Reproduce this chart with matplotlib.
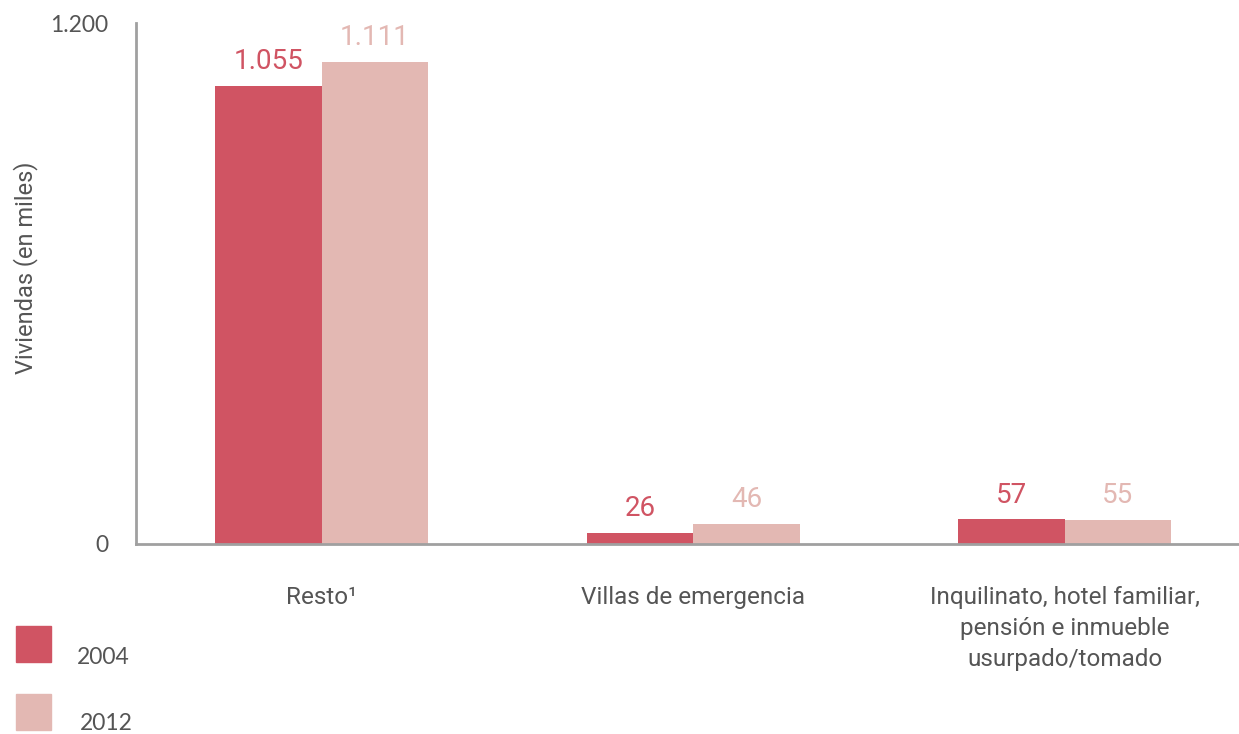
import matplotlib
matplotlib.use("Agg")
import matplotlib.pyplot as plt
from matplotlib.patches import Rectangle
import numpy as np

categories = ["Resto\u00b9", "Villas de emergencia",
              "Inquilinato, hotel familiar,\npensión e inmueble\nusurpado/tomado"]
series = ["2004", "2012"]
values_2004 = [1055, 26, 57]
values_2012 = [1111, 46, 55]
colors = ["#D05463", "#E3B8B3"]
ytick_vals = [0, 1200]
ytick_labels = ["0", "1.200"]

narrow = ["Roboto", "DejaVu Sans"]
plain = ["Lato", "DejaVu Sans"]
grey = "#555555"

fig = plt.figure(figsize=(12.39, 7.34), dpi=100)
ax = fig.add_axes([136 / 1239, 190 / 734, 1114.5 / 1239, 521 / 734])

x = np.arange(len(categories))
w = 0.2867
for i, (vals, col) in enumerate(zip([values_2004, values_2012], colors)):
    pos = x + (i - 0.5) * w
    ax.bar(pos, vals, width=w, color=col, zorder=2)
    for p, v in zip(pos, vals):
        ax.annotate(f"{v:,}".replace(",", "."), (p, v), xytext=(0, 12),
                    textcoords="offset points", ha="center", va="baseline",
                    fontsize=20, color=col, family=narrow)

ax.set_xlim(-0.5, 2.5)
ax.set_ylim(0, 1200)
ax.set_yticks(ytick_vals)
ax.set_yticklabels(ytick_labels, family=plain, fontsize=16.5, color=grey)
ax.set_xticks(x)
ax.set_xticklabels(categories, family=narrow, fontsize=17.5, color=grey,
                   linespacing=1.45, va="top")
ax.tick_params(axis="both", length=0)
ax.tick_params(axis="y", pad=20)
ax.tick_params(axis="x", pad=30)
for s in ["top", "right"]:
    ax.spines[s].set_visible(False)
for s in ["left", "bottom"]:
    ax.spines[s].set_color("#A0A0A0")
    ax.spines[s].set_linewidth(2)
ax.set_ylabel("Viviendas (en miles)", family=narrow, fontsize=17, color=grey)
ax.yaxis.set_label_coords(-0.088, 0.53)

# legend
for i, (lab, col) in enumerate(zip(series, colors)):
    y0 = 1 - (662 + i * 68) / 734
    fig.patches.append(Rectangle((16 / 1239, y0), 35 / 1239, 36 / 734,
                                 transform=fig.transFigure, color=col))
    fig.text((77 + i * 3) / 1239, 1 - (657 + i * 66) / 734, lab,
             family=plain, fontsize=16.5, color=grey, va="center")

fig.savefig("out.png", dpi=100)
